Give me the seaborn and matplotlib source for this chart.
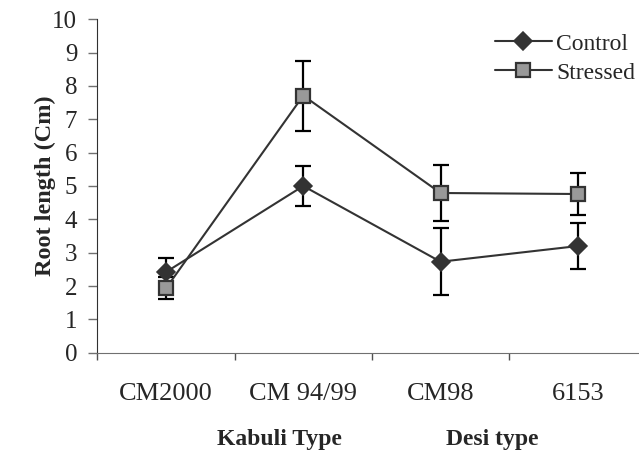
import pandas as pd
import seaborn as sns
import matplotlib.pyplot as plt

# datos
genotypes = ["CM2000", "CM 94/99", "CM98", "6153"]
control = [2.42, 5.00, 2.73, 3.20]
control_err = [0.41, 0.61, 1.00, 0.69]
stressed = [1.93, 7.71, 4.79, 4.76]
stressed_err = [0.33, 1.05, 0.85, 0.62]
series = ["Control", "Stressed"]
groups = ["Kabuli Type", "Desi type"]

df = pd.DataFrame({
    "genotype": genotypes * 2,
    "root": control + stressed,
    "treatment": ["Control"] * 4 + ["Stressed"] * 4,
})

sns.set_style("ticks")
plt.rcParams["font.family"] = ["Liberation Serif", "DejaVu Serif"]

fig = plt.figure(figsize=(6.39, 4.58), dpi=100)
ax = fig.add_axes([97.3 / 639, 1 - 352.8 / 458, 549.2 / 639, 333.6 / 458])

sns.pointplot(
    data=df, x="genotype", y="root", hue="treatment",
    hue_order=series, order=genotypes,
    palette=["#333333", "#333333"], markers=["D", "s"],
    linestyles=["-", "-"], errorbar=None, dodge=False,
    markersize=9, linewidth=1.5, legend=False, ax=ax,
)

# barras de error (detras de los marcadores)
pos = range(len(genotypes))
ax.errorbar(pos, control, yerr=control_err, fmt="none", ecolor="black",
            elinewidth=1.6, capsize=6, capthick=1.6, zorder=1)
ax.errorbar(pos, stressed, yerr=stressed_err, fmt="none", ecolor="black",
            elinewidth=1.6, capsize=6, capthick=1.6, zorder=1)

l_ctrl, l_str = ax.lines[0], ax.lines[1]
for ln in (l_ctrl, l_str):
    ln.set_zorder(3)
l_ctrl.set_markerfacecolor("#333333")
l_ctrl.set_markeredgecolor("#333333")
l_ctrl.set_markersize(9)
l_str.set_markerfacecolor("#999999")
l_str.set_markeredgecolor("#333333")
l_str.set_markeredgewidth(1.6)
l_str.set_markersize(10.5)

ax.set_xlim(-0.5, 3.5)
ax.set_ylim(0, 10)
ax.set_yticks(range(0, 11))
ax.tick_params(axis="y", labelsize=18, length=6.5, width=1, color="#707070", pad=8)
ax.set_xticks(list(pos))
ax.set_xticklabels(genotypes)
ax.tick_params(axis="x", which="major", labelsize=19, length=0, pad=22)
ax.set_xticks([-0.5, 0.5, 1.5, 2.5, 3.5], minor=True)
ax.tick_params(axis="x", which="minor", length=5, width=1, color="#505050")

sns.despine(ax=ax)
ax.spines["left"].set_color("#303030")
ax.spines["bottom"].set_color("#707070")

ax.set_xlabel("")
ax.set_ylabel("Root length (Cm)", fontsize=17.5, fontweight="bold")
ax.yaxis.set_label_coords(-0.075, 0.5)

fig.text(279 / 639, 13 / 458, groups[0], ha="center", va="baseline",
         fontsize=17, fontweight="bold")
fig.text(492.5 / 639, 13 / 458, groups[1], ha="center", va="baseline",
         fontsize=17, fontweight="bold")

ax.legend([l_ctrl, l_str], series, loc="upper left",
          bbox_to_anchor=(495 / 639, 1 - 33 / 458), bbox_transform=fig.transFigure,
          frameon=False, fontsize=17, handlelength=2.4, handletextpad=0.2,
          labelspacing=0.32, borderpad=0, borderaxespad=0)

fig.savefig("out.png", dpi=100)
